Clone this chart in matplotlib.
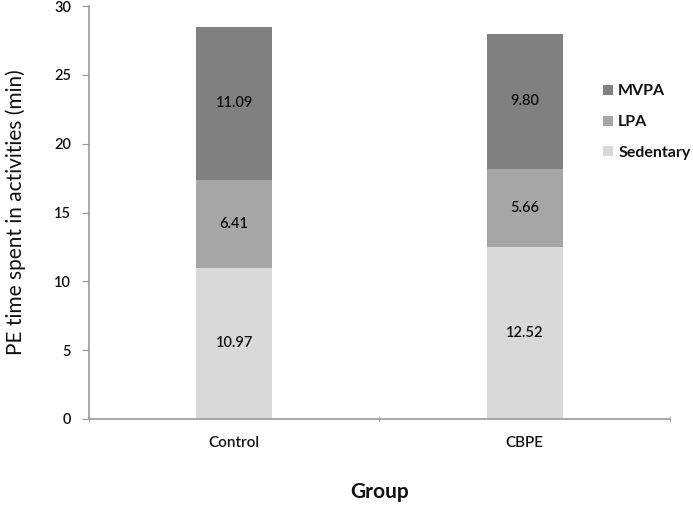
import matplotlib
matplotlib.use("Agg")
import matplotlib.pyplot as plt
import numpy as np

plt.rcParams['font.family'] = ['Lato', 'DejaVu Sans']

groups = ['Control', 'CBPE']
sedentary = [10.97, 12.52]
lpa = [6.41, 5.66]
mvpa = [11.09, 9.80]

col_sed = '#d9d9d9'
col_lpa = '#a6a6a6'
col_mvpa = '#808080'

fig = plt.figure(figsize=(6.93, 5.05), dpi=100)
ax = fig.add_axes([0.1284, 0.1703, 0.8384, 0.8177])

x = np.arange(len(groups))
w = 0.26
b1 = ax.bar(x, sedentary, w, color=col_sed, label='Sedentary')
b2 = ax.bar(x, lpa, w, bottom=sedentary, color=col_lpa, label='LPA')
bot3 = np.array(sedentary) + np.array(lpa)
b3 = ax.bar(x, mvpa, w, bottom=bot3, color=col_mvpa, label='MVPA')

for bars, vals in [(b1, sedentary), (b2, lpa), (b3, mvpa)]:
    for r, v in zip(bars, vals):
        ax.text(r.get_x() + r.get_width() / 2, r.get_y() + r.get_height() / 2,
                '%.2f' % v, ha='center', va='center', fontsize=10.5,
                color='#111111', fontweight='semibold')

ax.set_xlim(-0.5, 1.5)
ax.set_ylim(0, 30)
ax.set_yticks(np.arange(0, 31, 5))
ax.set_xticks(x)
ax.set_xticklabels(groups, fontweight='semibold')
ax.set_xticks([-0.5, 0.5, 1.5], minor=True)
ax.tick_params(axis='x', which='major', length=0, pad=12, labelsize=11, colors='#111111')
ax.tick_params(axis='x', which='minor', length=5, color='#999999', direction='inout')
ax.tick_params(axis='y', length=5, color='#999999', labelsize=10.5, colors='#111111', pad=8)
for t in ax.get_yticklabels():
    t.set_fontweight('semibold')
for s in ['top', 'right']:
    ax.spines[s].set_visible(False)
for s in ['left', 'bottom']:
    ax.spines[s].set_color('#999999')
    ax.spines[s].set_linewidth(1.2)

ax.set_ylabel('PE time spent in activities (min)', fontsize=15, color='#111111', labelpad=20)
ax.set_xlabel('Group', fontsize=15, fontweight='bold', color='#111111', labelpad=23)

handles = [b3, b2, b1]
leg = ax.legend(handles, ['MVPA', 'LPA', 'Sedentary'], loc='upper left',
                bbox_to_anchor=(0.86, 0.845), frameon=False, fontsize=11.5,
                handlelength=0.6, handleheight=0.6, handletextpad=0.35, labelspacing=1.05)
for t in leg.get_texts():
    t.set_color('#111111')
    t.set_fontweight('bold')

fig.savefig('out.png', dpi=100)
